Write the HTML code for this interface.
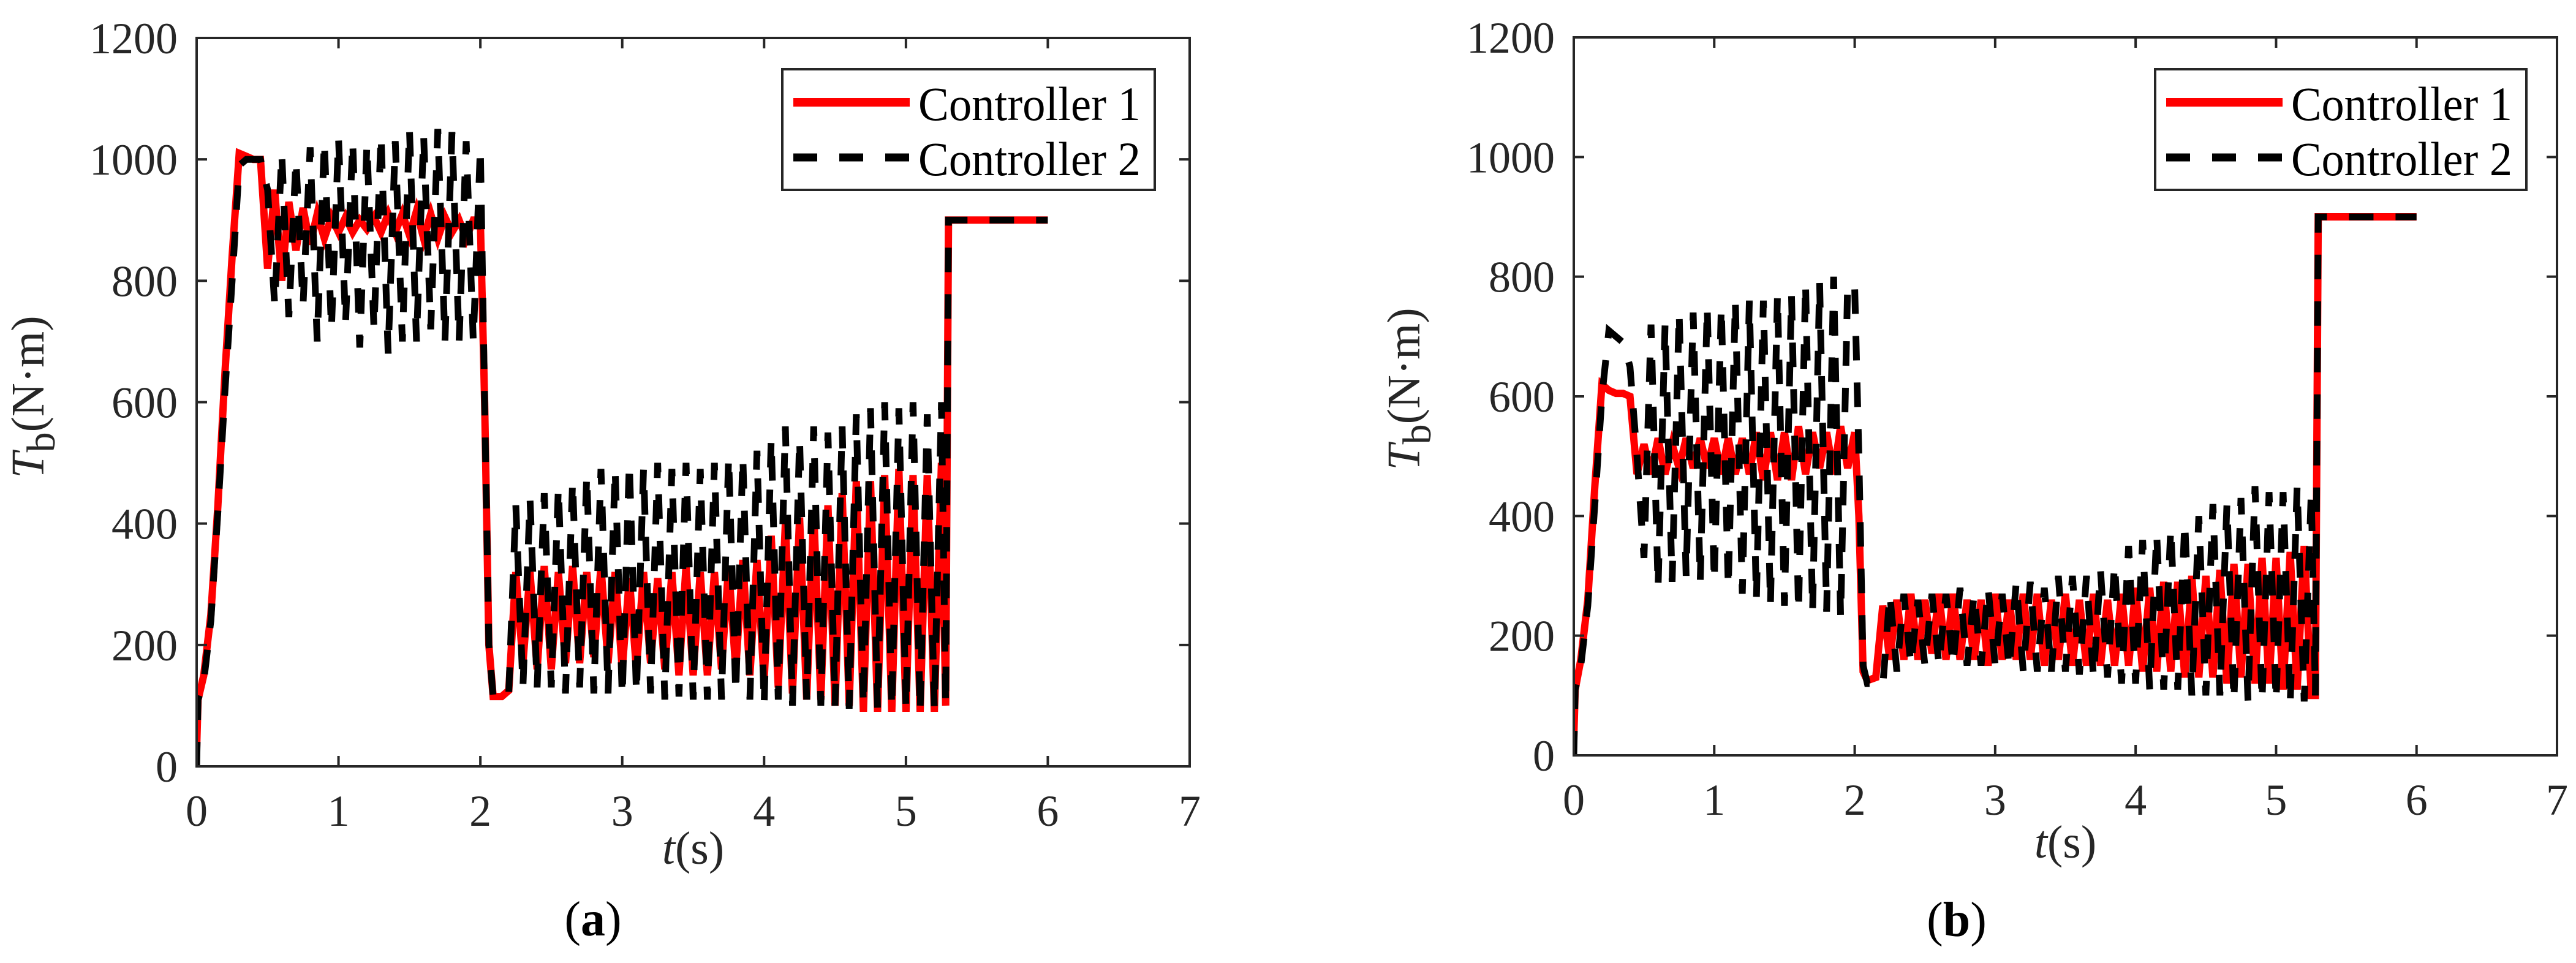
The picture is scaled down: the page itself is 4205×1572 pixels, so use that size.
<!DOCTYPE html>
<html><head><meta charset="utf-8"><style>
html,body{margin:0;padding:0;background:#fff;}
svg, svg text, svg tspan{font-family:"Liberation Serif","DejaVu Serif","Noto Serif CJK SC",serif !important;}
</style></head>
<body>
<svg id="fig" width="4205" height="1567" viewBox="0 0 4205 1567" xmlns="http://www.w3.org/2000/svg">
<rect width="4205" height="1567" fill="#fff"/>
</svg>
<script>
// shared time grid (s)
const timeGrid = [0,0.01,0.05,0.1,0.15,0.2,0.25,0.3,0.35,0.4,0.45,
0.5,0.55,0.6,0.65,0.7,0.75,0.8,0.85,0.9,0.95,
1.0,1.05,1.1,1.15,1.2,1.25,1.3,1.35,1.4,1.45,
1.5,1.55,1.6,1.65,1.7,1.75,1.8,1.85,1.9,1.95,2.0,
2.03,2.06,2.09,2.15,2.2,
2.25,2.3,2.35,2.4,2.45,2.5,2.55,2.6,2.65,2.7,
2.75,2.8,2.85,2.9,2.95,3.0,3.05,3.1,3.15,3.2,
3.25,3.3,3.35,3.4,3.45,3.5,3.55,3.6,3.65,3.7,
3.75,3.8,3.85,3.9,3.95,4.0,4.05,4.1,4.15,4.2,
4.25,4.3,4.35,4.4,4.45,4.5,4.55,4.6,4.65,4.7,
4.75,4.8,4.85,4.9,4.95,5.0,5.05,5.1,5.15,5.2,
5.25,5.28,5.3,6.0];
// panel (a) controller 1 (red)
const aCtrl1 = [30,110,150,250,430,650,840,1010,1005,1000,1000,
820,950,800,930,850,920,860,910,870,905,
880,905,880,900,885,905,880,910,880,910,
875,915,870,910,870,905,880,900,870,900,900,
600,200,115,115,125,
320,170,320,160,330,160,320,170,330,170,
320,180,330,170,320,160,310,160,320,170,
310,160,320,150,330,150,320,150,320,160,
330,160,340,150,340,140,380,130,400,120,
410,110,420,110,430,100,450,100,470,90,
470,90,480,90,490,90,480,90,480,90,
500,100,900,900];
// panel (a) controller 2 (black dashed)
const aCtrl2 = [0,110,140,240,420,620,800,990,1000,1000,1000,
950,760,1010,740,1000,760,1020,700,1030,720,
1035,730,1030,690,1025,720,1040,680,1030,700,
1050,700,1040,720,1050,700,1045,700,1030,700,1020,
600,200,115,110,120,
430,130,440,130,450,130,460,120,470,130,
480,120,490,120,490,115,500,120,490,120,
500,110,490,115,500,110,490,110,500,110,
510,120,510,110,520,100,540,110,560,100,
540,110,560,100,550,100,560,95,580,100,
590,95,600,95,590,95,600,90,580,95,
600,100,900,900];
// panel (b) controller 1 (red)
const bCtrl1 = [30,110,160,260,450,620,610,605,605,600,470,
520,470,530,470,520,480,530,480,530,480,
530,470,530,470,530,470,540,460,540,460,
540,460,550,470,540,480,540,470,550,480,540,
400,140,125,130,250,
160,260,160,270,160,260,170,270,160,270,
160,260,160,260,150,270,160,260,160,270,
160,270,150,260,160,270,150,260,150,270,
150,260,150,270,150,280,140,280,140,290,
140,290,130,300,130,300,130,310,120,320,
130,320,120,330,120,330,110,340,110,350,
100,100,900,900];
// panel (b) controller 2 (black dashed)
const bCtrl2 = [0,110,150,250,420,600,710,700,690,650,500,
330,720,280,720,290,740,300,740,290,750,
290,750,280,760,270,760,260,760,250,770,
250,770,240,790,240,790,240,800,230,790,780,
500,150,120,120,115,
270,140,270,150,260,150,270,150,270,150,
280,150,270,150,280,150,270,145,290,140,
290,140,280,140,300,140,300,135,300,130,
310,130,320,120,350,120,360,110,370,110,
380,110,390,100,400,100,420,100,420,90,
430,90,450,90,440,90,440,85,450,90,
440,100,900,900];
const xTicks = [0,1,2,3,4,5,6,7];
const yTicks = [0,200,400,600,800,1000,1200];
const legendLabels = ["Controller 1","Controller 2"];

const NS = "http://www.w3.org/2000/svg";
const FONT = "'Liberation Serif', 'DejaVu Serif', serif";
const fig = document.getElementById('fig');
function mk(tag, attrs, parent){
  const e = document.createElementNS(NS, tag);
  for (const k in attrs) e.setAttribute(k, attrs[k]);
  if (tag === 'text') e.style.fontFamily = FONT;
  (parent||fig).appendChild(e);
  return e;
}
const AX = "#262626";

function panel(cfg){
  const g = mk('g', {});
  
  
  const {L,R,T,B} = cfg;
  const xs = v => L + (v-0)/(7-0)*(R-L);
  const ys = v => B - (v-0)/(1200-0)*(B-T);
  const clipId = 'clip-'+cfg.name;
  const cp = mk('clipPath', {id: clipId}, g);
  mk('rect', {x:L, y:T, width:R-L, height:B-T}, cp);
  const series = [
    {vals: cfg.s1, color:'#ff0000', w:12, dash:null, name:'controller-1-line'},
    {vals: cfg.s2, color:'#000000', w:11, dash:'40 36', name:'controller-2-line'}
  ];
  series.forEach(s=>{
    let d = '';
    timeGrid.forEach((t,i)=>{ d += (i?'L':'M') + xs(t).toFixed(1) + ' ' + ys(s.vals[i]).toFixed(1) + ' '; });
    const p = mk('path', {d:d, fill:'none', stroke:s.color, 'stroke-width':s.w, 'stroke-linejoin':'miter', 'clip-path':'url(#'+clipId+')'}, g);
    if (s.dash) p.setAttribute('stroke-dasharray', s.dash);
    
    
  });
  const box = mk('rect', {x:L, y:T, width:R-L, height:B-T, fill:'none', stroke:AX, 'stroke-width':4}, g);
  
  
  xTicks.forEach(v=>{
    const x = xs(v);
    mk('line', {x1:x, y1:B, x2:x, y2:B-17, stroke:AX, 'stroke-width':4}, g);
    mk('line', {x1:x, y1:T, x2:x, y2:T+17, stroke:AX, 'stroke-width':4}, g);
    const tx = mk('text', {x:x, y:cfg.xTickY, 'text-anchor':'middle', 'font-size':72, fill:AX}, g);
    tx.textContent = v;
    
    
  });
  yTicks.forEach(v=>{
    const y = ys(v);
    mk('line', {x1:L, y1:y, x2:L+17, y2:y, stroke:AX, 'stroke-width':4}, g);
    mk('line', {x1:R, y1:y, x2:R-17, y2:y, stroke:AX, 'stroke-width':4}, g);
    const ty = mk('text', {x:L-31, y:y+25, 'text-anchor':'end', 'font-size':72, fill:AX}, g);
    ty.textContent = v;
    
    
  });
  const xl = mk('text', {x:(L+R)/2, y:cfg.xLabY, 'text-anchor':'middle', 'font-size':76, fill:AX}, g);
  xl.innerHTML = '<tspan font-style="italic">t</tspan>(s)';
  
  
  const yl = mk('text', {x:0, y:0, 'text-anchor':'middle', 'font-size':76, fill:AX, transform:'translate('+cfg.yLabX+','+cfg.yLabCY+') rotate(-90)'}, g);
  yl.innerHTML = '<tspan font-style="italic">T</tspan><tspan dy="18" font-size="66">b</tspan><tspan dy="-18">(N·m)</tspan>';
  
  
  const lg = mk('g', {}, g);
  
  
  mk('rect', {x:cfg.legX, y:113, width:cfg.legW, height:197, fill:'#fff', stroke:AX, 'stroke-width':4}, lg);
  const e1 = mk('line', {x1:cfg.legX+18, y1:167, x2:cfg.legX+208, y2:167, stroke:'#ff0000', 'stroke-width':14}, lg);
  
  
  const e2 = mk('line', {x1:cfg.legX+18, y1:257, x2:cfg.legX+208, y2:257, stroke:'#000', 'stroke-width':13, 'stroke-dasharray':'39 36'}, lg);
  
  
  legendLabels.forEach((lab,i)=>{
    const t = mk('text', {x:cfg.legX+222, y:i?286:196, 'font-size':78, fill:'#000', textLength:cfg.legW-245, lengthAdjust:'spacingAndGlyphs'}, lg);
    t.textContent = lab;
    
    
  });
  const cap = mk('text', {x:cfg.capX, y:cfg.capY, 'text-anchor':'middle', 'font-size':80, fill:'#000'}, g);
  cap.innerHTML = '(<tspan font-weight="bold">'+cfg.cap+'</tspan>)';
  
  
}

panel({name:'panel-a', L:321, R:1942, T:62, B:1251, s1:aCtrl1, s2:aCtrl2,
  xTickY:1348, xLabY:1410, yLabX:71, yLabCY:648, legX:1277, legW:608, capX:968, capY:1527, cap:'a'});
panel({name:'panel-b', L:2569, R:4174, T:61, B:1233, s1:bCtrl1, s2:bCtrl2,
  xTickY:1330, xLabY:1400, yLabX:2317, yLabCY:635, legX:3518, legW:606, capX:3194, capY:1528, cap:'b'});
</script>
</body></html>
